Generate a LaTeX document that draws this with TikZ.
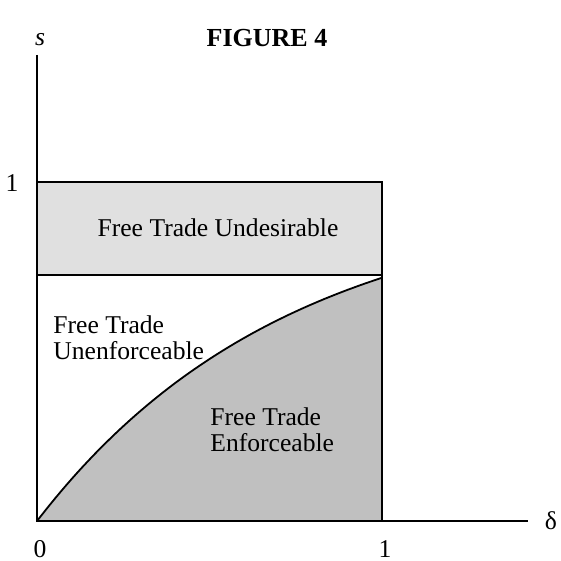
\documentclass[tikz,border=0pt]{standalone}
\usepackage{fontspec}
\setmainfont{Liberation Serif}
\definecolor{bandgray}{RGB}{224,224,224}
\definecolor{regiongray}{RGB}{192,192,192}
\begin{document}
\begin{tikzpicture}[x=0.5pt, y=-0.5pt, font=\fontsize{12.8}{12.8}\selectfont,
    axisline/.style={line width=1pt},
    boxline/.style={line width=1pt},
    lbl/.style={inner sep=0pt}]
    \useasboundingbox (0,0) rectangle (561,561);
    % Pontos principais
    \coordinate (O) at (37,521);
    \coordinate (ytop) at (37,55);
    \coordinate (xend) at (528,521);
    \coordinate (D1) at (382,521);
    \coordinate (S1) at (37,182);
    \coordinate (C1) at (382,182);
    \coordinate (B0) at (37,275);
    \coordinate (B1) at (382,275);

    % Faixa clara
    \fill[bandgray] (S1) rectangle (B1);
    % Região escura abaixo da curva
    \fill[regiongray] plot[domain=0:345, samples=60] ({37+\x}, {521-325*(1-exp(-\x/250))}) -- (D1) -- cycle;
    \draw[line width=0.9pt] plot[domain=0:345, samples=60] ({37+\x}, {521-325*(1-exp(-\x/250))});

    % Caixa
    \draw[boxline] (S1) -- (C1) -- (D1);
    \draw[boxline] (B0) -- (B1);

    % Eixos
    \draw[axisline] (ytop) -- (O) -- (xend);

    % Rótulos
    \node[font=\fontsize{13}{13}\selectfont\bfseries] (title) at (267,38) {FIGURE 4};
    \node[lbl] (ylab) at (40,40) {\textit{s}};
    \node[lbl] (xlab) at (551,521) {δ};
    \node[lbl] (yone) at (12,183) {1};
    \node[lbl] (zero) at (40,549) {0};
    \node[lbl] (xone) at (385,549) {1};

    \node (undes) at (218,228) {Free Trade Undesirable};
    \node[lbl, anchor=west, align=left] (unenf) at (53,338) {Free Trade\\Unenforceable};
    \node[lbl, anchor=west, align=left] (enf) at (210,430) {Free Trade\\Enforceable};
\end{tikzpicture}
\end{document}
